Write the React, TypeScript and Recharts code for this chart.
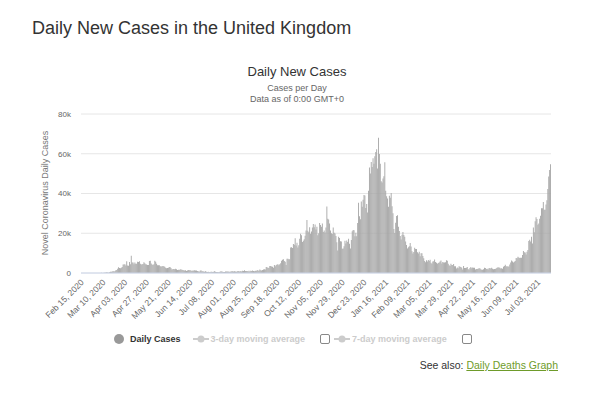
import { BarChart, Bar, XAxis, YAxis, CartesianGrid } from 'recharts';

// daily new cases, one array per month (first day: Feb 15, 2020)
const feb2020 = [0, 0, 0, 0, 0, 0, 0, 0, 0, 4, 0, 0, 0, 3, 4];
const mar2020 = [12, 4, 11, 34, 30, 48, 43, 67, 48, 52, 83, 134, 208, 342, 251, 152, 407, 676, 643, 714, 1035, 665, 967, 1427, 1452, 2129, 2885, 2546, 2433, 2619, 3009];
const apr2020 = [4324, 4244, 4450, 3735, 5903, 3802, 3634, 5491, 4344, 8681, 5233, 5288, 4342, 5252, 4603, 4617, 5599, 5525, 5850, 4676, 4301, 4451, 4583, 5386, 4913, 4463, 4309, 3996, 4076, 6032];
const may2020 = [6201, 4806, 4339, 3985, 4406, 6111, 5614, 4649, 3896, 3923, 3877, 3403, 3242, 3446, 3560, 3450, 3142, 2684, 2412, 2472, 2615, 2959, 2953, 2409, 1625, 2004, 2013, 1887, 2095, 1936, 1570];
const jun2020 = [1653, 1570, 1871, 1805, 1650, 1557, 1326, 1205, 1387, 1003, 1266, 1541, 1425, 1514, 1056, 1279, 1115, 1218, 1346, 1295, 1221, 958, 874, 653, 1118, 1380, 890, 901, 815, 689];
const jul2020 = [829, 576, 544, 624, 516, 352, 581, 630, 512, 642, 820, 650, 530, 538, 398, 538, 687, 827, 796, 580, 560, 445, 769, 767, 798, 745, 685, 581, 763, 846, 880];
const aug2020 = [744, 938, 743, 670, 892, 950, 871, 758, 1062, 816, 1148, 1009, 1441, 1062, 1012, 1040, 713, 1089, 812, 1182, 1033, 1288, 1041, 853, 1184, 1048, 1522, 1276, 1108, 1715, 1406];
const sep2020 = [1295, 1508, 1735, 1940, 1813, 2988, 2948, 2460, 2659, 3539, 3497, 3330, 3105, 2621, 3991, 3395, 3991, 4322, 4422, 3899, 4368, 4926, 6178, 6634, 6874, 6042, 5693, 4044, 7143, 7108];
const oct2020 = [6914, 6968, 12872, 12900, 12594, 14542, 14162, 17540, 13864, 15166, 12872, 13972, 17234, 19724, 18980, 15650, 16171, 16982, 18804, 21331, 26688, 21242, 20530, 23012, 19790, 20890, 22885, 24701, 23065, 24405, 21915];
const nov2020 = [23254, 18950, 20018, 25177, 24141, 23287, 24957, 20572, 21350, 20412, 22950, 33470, 27301, 26860, 24962, 21363, 20051, 19609, 22915, 20252, 19875, 18662, 15450, 11299, 18213, 17555, 16022, 15871, 12155, 12330];
const dec2020 = [13430, 16170, 14879, 16298, 15539, 17272, 14718, 12282, 16578, 20964, 21672, 21502, 18447, 20263, 18450, 25161, 35383, 28507, 27052, 35928, 33364, 36804, 39237, 39036, 32725, 34693, 30501, 41385, 53135, 50023, 55892];
const jan2021 = [53285, 57725, 54990, 58784, 60916, 62322, 52618, 68053, 59937, 54940, 46165, 45533, 47525, 48682, 55761, 41346, 38598, 37535, 33355, 38905, 37892, 40261, 33552, 30004, 22195, 20089, 25308, 28680, 29079, 23275, 21088];
const feb2021 = [18607, 16840, 19202, 20634, 19114, 18262, 15845, 14104, 12364, 13013, 13494, 15144, 13308, 10972, 9765, 10625, 12718, 12057, 12027, 10406, 9834, 10641, 8489, 9938, 9985, 8523, 7434, 6035];
const mar2021 = [5455, 6385, 5766, 6573, 6040, 6609, 5177, 4712, 5766, 5926, 6753, 5534, 5179, 4618, 5089, 5294, 5758, 6303, 4802, 5587, 5312, 5342, 5379, 6397, 6187, 4715, 3862, 3568, 4654, 4040, 4052];
const apr2021 = [4479, 3402, 3423, 2297, 2762, 2379, 3442, 3150, 3060, 2589, 1730, 3568, 2472, 2491, 2672, 3039, 1882, 1730, 2524, 2963, 2396, 2729, 2678, 2596, 1712, 2064, 1952, 2166, 2445, 2381];
const may2021 = [1907, 1671, 1649, 1946, 2613, 2490, 2047, 2193, 1770, 2357, 2474, 2284, 2657, 2193, 1926, 2027, 1979, 2412, 2696, 2874, 2829, 2694, 2235, 2439, 2093, 3180, 3542, 4182, 3398, 3240, 3383];
const jun2021 = [3165, 4330, 5274, 6238, 5765, 5341, 5683, 6048, 7540, 7393, 8125, 7738, 7490, 7673, 7673, 9055, 11007, 10476, 10321, 9284, 10633, 11625, 16135, 16703, 15810, 18270, 14876, 22868, 20479, 26068];
const jul2021 = [27989, 27125, 24248, 24885, 27334, 28773, 32548, 32551, 35707, 31772, 31772, 34471, 36660, 42302, 48553, 51870, 54674];

const dailyCases = [
  ...feb2020, ...mar2020, ...apr2020, ...may2020, ...jun2020, ...jul2020,
  ...aug2020, ...sep2020, ...oct2020, ...nov2020, ...dec2020,
  ...jan2021, ...feb2021, ...mar2021, ...apr2021, ...may2021, ...jun2021, ...jul2021,
];

const monthNames = ['Jan', 'Feb', 'Mar', 'Apr', 'May', 'Jun', 'Jul', 'Aug', 'Sep', 'Oct', 'Nov', 'Dec'];
const firstDay = Date.UTC(2020, 1, 15);
const yTicks = [0, 20000, 40000, 60000, 80000];

const data = dailyCases.map((cases, i) => {
  const d = new Date(firstDay + i * 86400000);
  const day = String(d.getUTCDate()).padStart(2, '0');
  return { date: `${monthNames[d.getUTCMonth()]} ${day}, ${d.getUTCFullYear()}`, cases };
});

const font = '"Liberation Sans", Arial, Helvetica, sans-serif';

const DateTick = ({ x, y, payload }: any) => (
  <text
    x={x + 3}
    y={y + 2}
    transform={`rotate(-45 ${x + 3} ${y + 2})`}
    textAnchor="end"
    fontSize={8.5}
    fill="#666"
    fontFamily={font}
  >
    {payload.value}
  </text>
);

const LegendMarker = () => (
  <svg width={16} height={10} style={{ marginRight: 2 }}>
    <line x1={0} y1={5} x2={16} y2={5} stroke="#ccc" strokeWidth={2} />
    <circle cx={8} cy={5} r={3.5} fill="#ccc" />
  </svg>
);

const Checkbox = () => (
  <span style={{ display: 'inline-block', width: 8, height: 8, border: '1px solid #888', borderRadius: 2, background: '#fff' }} />
);

export default function App() {
  return (
    <div style={{ position: 'absolute', left: 0, top: 0, width: 594, height: 393, background: '#fff', fontFamily: font }}>
      <div style={{ position: 'absolute', left: 32, top: 18, fontSize: 18, color: '#333', whiteSpace: 'nowrap' }}>
        Daily New Cases in the United Kingdom
      </div>
      <div style={{ position: 'absolute', left: 0, width: 594, top: 64, textAlign: 'center', fontSize: 13, color: '#333' }}>
        Daily New Cases
      </div>
      <div style={{ position: 'absolute', left: 0, width: 594, top: 83, textAlign: 'center', fontSize: 9, color: '#666', lineHeight: '11px' }}>
        Cases per Day
        <br />
        Data as of 0:00 GMT+0
      </div>
      <div
        style={{
          position: 'absolute', left: 45, top: 193, fontSize: 9, color: '#777', whiteSpace: 'nowrap',
          transform: 'translate(-50%, -50%) rotate(-90deg)',
        }}
      >
        Novel Coronavirus Daily Cases
      </div>

      <div style={{ position: 'absolute', left: 0, top: 0 }}>
        <BarChart
          width={594}
          height={393}
          data={data}
          margin={{ top: 114, right: 43, bottom: 60, left: 31 }}
          barCategoryGap={0}
        >
          <CartesianGrid vertical={false} stroke="#e6e6e6" />
          <XAxis
            dataKey="date"
            interval={23}
            tickLine={false}
            axisLine={{ stroke: '#ccd6eb' }}
            tick={<DateTick />}
            height={60}
          />
          <YAxis
            width={50}
            domain={[0, 80000]}
            ticks={yTicks}
            axisLine={false}
            tickLine={false}
            tickMargin={4}
            tick={{ fontSize: 8, fill: '#666', fontFamily: font }}
            tickFormatter={(v: number) => (v === 0 ? '0' : `${v / 1000}k`)}
          />
          <Bar dataKey="cases" fill="#a6a6a6" isAnimationActive={false} />
        </BarChart>
      </div>

      <div style={{ position: 'absolute', left: 114, top: 334, display: 'flex', alignItems: 'center', fontSize: 9, fontWeight: 'bold', whiteSpace: 'nowrap' }}>
        <span style={{ display: 'inline-block', width: 10, height: 10, borderRadius: 5, background: '#999', marginRight: 6 }} />
        <span style={{ color: '#333', marginRight: 12 }}>Daily Cases</span>
        <LegendMarker />
        <span style={{ color: '#ccc', marginRight: 15 }}>3-day moving average</span>
        <Checkbox />
        <span style={{ width: 4 }} />
        <LegendMarker />
        <span style={{ color: '#ccc', marginRight: 15 }}>7-day moving average</span>
        <Checkbox />
      </div>

      <div style={{ position: 'absolute', right: 36, top: 359, fontSize: 10.5, color: '#333', whiteSpace: 'nowrap' }}>
        See also: <span style={{ color: '#6e9b2a', textDecoration: 'underline' }}>Daily Deaths Graph</span>
      </div>
    </div>
  );
}
